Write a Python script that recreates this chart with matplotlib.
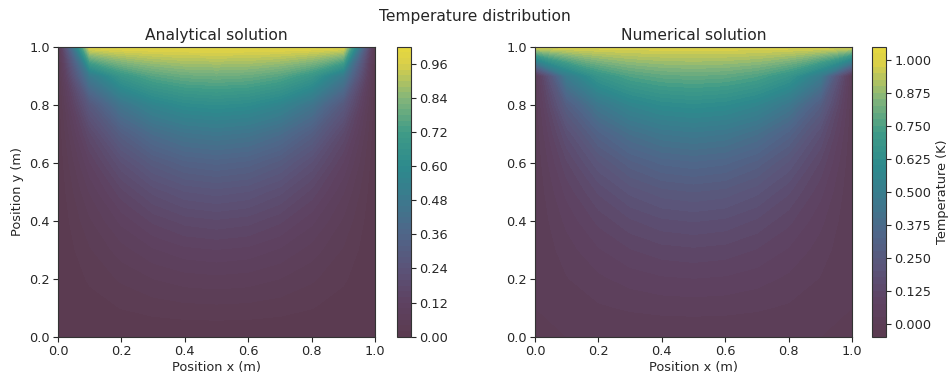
import numpy as np
import matplotlib
matplotlib.use("Agg")
import matplotlib.pyplot as plt
from matplotlib import colors

# plate and boundary conditions
plate_len = 1.0
n_points = 11          # grid points per side
n_terms = 100          # odd terms kept in the Fourier series
t_top = 1.0            # top edge temperature, other edges at 0

levels_analytical = np.round(np.linspace(0.0, 1.02, 52), 4)
levels_numerical = np.round(np.linspace(-0.05, 1.05, 45), 4)

x = np.linspace(0, plate_len, n_points)
y = np.linspace(0, plate_len, n_points)
X, Y = np.meshgrid(x, y)

# analytical solution (separation of variables)
T_exact = np.zeros_like(X)
for k in range(n_terms):
    n = 2 * k + 1
    T_exact += (4 * t_top / (n * np.pi)) * np.sin(n * np.pi * X / plate_len) \
        * np.sinh(n * np.pi * Y / plate_len) / np.sinh(n * np.pi)

# numerical solution (finite differences, Jacobi iterations)
T_num = np.zeros((n_points, n_points))
T_num[-1, :] = t_top
for it in range(5000):
    T_num[1:-1, 1:-1] = 0.25 * (T_num[2:, 1:-1] + T_num[:-2, 1:-1]
                                + T_num[1:-1, 2:] + T_num[1:-1, :-2])

# muted viridis-like map, colours picked off the reference colorbar
cmap = colors.LinearSegmentedColormap.from_list("muted_viridis", [
    (0.000, "#5b3b50"),
    (0.118, "#5e4262"),
    (0.235, "#5b5479"),
    (0.353, "#4f6689"),
    (0.470, "#3c798d"),
    (0.588, "#2d8a8d"),
    (0.706, "#3f9b87"),
    (0.824, "#84b57a"),
    (0.941, "#d9cf4a"),
    (1.000, "#e6d83e"),
])

txt = "#262626"
plt.rcParams["text.color"] = txt
plt.rcParams["axes.labelcolor"] = txt
plt.rcParams["xtick.color"] = txt
plt.rcParams["ytick.color"] = txt
plt.rcParams["axes.edgecolor"] = "#333333"

fig = plt.figure(figsize=(9.5, 3.79), dpi=100)
fig.suptitle("Temperature distribution", fontsize=11.2, y=0.975)

ax1 = fig.add_axes([0.0611, 0.1116, 0.3337, 0.765])
cax1 = fig.add_axes([0.4179, 0.1116, 0.0147, 0.765])
ax2 = fig.add_axes([0.5632, 0.1116, 0.3337, 0.765])
cax2 = fig.add_axes([0.9179, 0.1116, 0.0147, 0.765])

cs1 = ax1.contourf(X, Y, T_exact, levels=levels_analytical, cmap=cmap)
cs2 = ax2.contourf(X, Y, T_num, levels=levels_numerical, cmap=cmap)

for ax, title in [(ax1, "Analytical solution"), (ax2, "Numerical solution")]:
    ax.set_title(title, fontsize=11.2, pad=5)
    ax.set_xlabel("Position x (m)", fontsize=9.3, labelpad=2)
    ax.tick_params(labelsize=9.3, pad=2.5)
ax1.set_ylabel("Position y (m)", fontsize=9.3)

cb1 = fig.colorbar(cs1, cax=cax1)
cb2 = fig.colorbar(cs2, cax=cax2)
cb2.set_label("Temperature (K)", fontsize=9.3, labelpad=3)
for cb in (cb1, cb2):
    cb.ax.tick_params(labelsize=9.3, pad=2.5)

fig.savefig("out.png", dpi=100)
